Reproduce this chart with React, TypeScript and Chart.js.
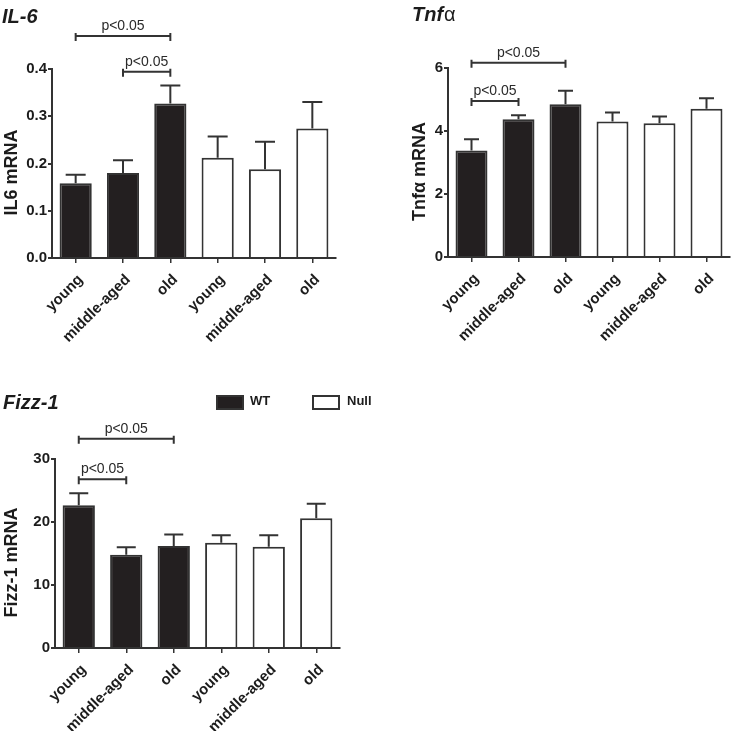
import React, { useEffect, useRef } from 'react';
import { Chart, registerables } from 'chart.js';

Chart.register(...registerables);

// ---------- data ----------
const categories = ['young', 'middle-aged', 'old', 'young', 'middle-aged', 'old'];
const seriesNames = ['WT', 'Null'];
const sigLabel = 'p<0.05';

const il6WT = [0.158, 0.18, 0.327, null, null, null];
const il6Null = [null, null, null, 0.212, 0.188, 0.274];
const il6Sem = [0.018, 0.027, 0.038, 0.045, 0.058, 0.056];
const il6Ticks = [0, 0.1, 0.2, 0.3, 0.4];
const il6Brackets = [
  { from: 0, to: 2, level: 0.47 },
  { from: 1, to: 2, level: 0.394 },
];

const tnfWT = [3.38, 4.37, 4.85, null, null, null];
const tnfNull = [null, null, null, 4.3, 4.25, 4.71];
const tnfSem = [0.36, 0.13, 0.43, 0.29, 0.21, 0.33];
const tnfTicks = [0, 2, 4, 6];
const tnfBrackets = [
  { from: 0, to: 2, level: 6.17 },
  { from: 0, to: 1, level: 4.95 },
];

const fizzWT = [22.67, 14.8, 16.2, null, null, null];
const fizzNull = [null, null, null, 16.7, 16.08, 20.6];
const fizzSem = [1.9, 1.2, 1.8, 1.2, 1.8, 2.3];
const fizzTicks = [0, 10, 20, 30];
const fizzBrackets = [
  { from: 0, to: 2, level: 33.2 },
  { from: 0, to: 1, level: 26.8 },
];

// ---------- style ----------
const FONT = "'Liberation Sans', Arial, Helvetica, sans-serif";
const WT_FILL = '#231f20';
const NULL_FILL = '#ffffff';
const EDGE = '#333333';
const TEXT = '#1c1c1c';

type Spec = {
  key: string;
  left: number;
  top: number;
  w: number;
  h: number;
  padLeft: number;
  padRight: number;
  padTop: number;
  yWidth: number;
  xHeight: number;
  wt: (number | null)[];
  nul: (number | null)[];
  sem: number[];
  ticks: number[];
  decimals: number;
  brackets: { from: number; to: number; level: number }[];
  cap: number;
  title: string;
  titleSuffix?: string;
  titleX: number;
  titleY: number;
  yTitle: string;
  yTitleX: number;
  legend?: boolean;
};

function decorPlugin(spec: Spec) {
  return {
    id: 'decor_' + spec.key,
    afterDatasetsDraw(chart: any) {
      const ctx = chart.ctx as CanvasRenderingContext2D;
      const ys = chart.scales.y;
      ctx.save();
      ctx.strokeStyle = EDGE;
      ctx.lineWidth = 2;
      chart.data.datasets.forEach((ds: any, i: number) => {
        const meta = chart.getDatasetMeta(i);
        meta.data.forEach((bar: any, j: number) => {
          const v = ds.data[j];
          if (v == null) return;
          const top = ys.getPixelForValue(v + spec.sem[j]);
          ctx.beginPath();
          ctx.moveTo(bar.x, bar.y);
          ctx.lineTo(bar.x, top);
          ctx.moveTo(bar.x - spec.cap / 2, top);
          ctx.lineTo(bar.x + spec.cap / 2, top);
          ctx.stroke();
        });
      });
      ctx.restore();
    },
    afterDraw(chart: any) {
      const ctx = chart.ctx as CanvasRenderingContext2D;
      const xs = chart.scales.x;
      const ys = chart.scales.y;
      const area = chart.chartArea;
      ctx.save();
      // significance brackets
      ctx.strokeStyle = EDGE;
      ctx.fillStyle = '#2a2a2a';
      ctx.lineWidth = 2;
      ctx.font = `14px ${FONT}`;
      ctx.textAlign = 'center';
      ctx.textBaseline = 'alphabetic';
      spec.brackets.forEach((b) => {
        const x1 = xs.getPixelForValue(b.from);
        const x2 = xs.getPixelForValue(b.to);
        const yy = ys.getPixelForValue(b.level);
        ctx.beginPath();
        ctx.moveTo(x1, yy);
        ctx.lineTo(x2, yy);
        ctx.moveTo(x1, yy - 3);
        ctx.lineTo(x1, yy + 5);
        ctx.moveTo(x2, yy - 3);
        ctx.lineTo(x2, yy + 5);
        ctx.stroke();
        ctx.fillText(sigLabel, (x1 + x2) / 2, yy - 6);
      });
      // panel title
      ctx.fillStyle = TEXT;
      ctx.textAlign = 'left';
      ctx.font = `italic bold 20px ${FONT}`;
      ctx.fillText(spec.title, spec.titleX, spec.titleY);
      if (spec.titleSuffix) {
        const w = ctx.measureText(spec.title).width;
        ctx.font = `20px ${FONT}`;
        ctx.fillText(spec.titleSuffix, spec.titleX + w + 1, spec.titleY);
      }
      // y axis title
      ctx.font = `bold 18px ${FONT}`;
      ctx.textAlign = 'center';
      ctx.textBaseline = 'middle';
      ctx.translate(spec.yTitleX, (area.top + area.bottom) / 2 + 9);
      ctx.rotate(-Math.PI / 2);
      ctx.fillText(spec.yTitle, 0, 0);
      ctx.restore();

      if (spec.legend) {
        ctx.save();
        const items = chart.data.datasets.map((ds: any) => ({
          label: ds.label,
          fill: ds.backgroundColor,
        }));
        const boxX = [217, 313];
        const textX = [250, 347];
        items.forEach((it: any, k: number) => {
          ctx.fillStyle = it.fill;
          ctx.strokeStyle = EDGE;
          ctx.lineWidth = 2;
          ctx.fillRect(boxX[k], 16, 26, 13);
          ctx.strokeRect(boxX[k], 16, 26, 13);
          ctx.fillStyle = TEXT;
          ctx.font = `bold 13px ${FONT}`;
          ctx.textAlign = 'left';
          ctx.textBaseline = 'alphabetic';
          ctx.fillText(it.label, textX[k], 25);
        });
        ctx.restore();
      }
    },
  };
}

function buildChart(canvas: HTMLCanvasElement, spec: Spec) {
  const max = spec.ticks[spec.ticks.length - 1];
  const step = spec.ticks[1] - spec.ticks[0];
  const common = {
    borderColor: EDGE,
    borderWidth: 2,
    barPercentage: 0.68,
    categoryPercentage: 1,
    skipNull: true,
  };
  return new Chart(canvas, {
    type: 'bar',
    data: {
      labels: categories,
      datasets: [
        { label: seriesNames[0], data: spec.wt, backgroundColor: WT_FILL, ...common },
        { label: seriesNames[1], data: spec.nul, backgroundColor: NULL_FILL, ...common },
      ] as any,
    },
    options: {
      responsive: false,
      animation: false,
      devicePixelRatio: 1,
      layout: { padding: { left: spec.padLeft, right: spec.padRight, top: spec.padTop, bottom: 0 } },
      plugins: {
        legend: { display: false },
        tooltip: { enabled: false },
        title: { display: false },
      },
      scales: {
        x: {
          grid: {
            offset: false,
            drawOnChartArea: false,
            tickLength: 5,
            color: EDGE,
            lineWidth: 1.5,
          },
          border: { color: EDGE, width: 2 },
          ticks: {
            autoSkip: false,
            maxRotation: 45,
            minRotation: 45,
            padding: 8,
            labelOffset: 5,
            color: TEXT,
            font: { family: FONT, weight: 'bold', size: 15 },
          },
          afterFit: (s: any) => {
            s.height = spec.xHeight;
          },
        },
        y: {
          min: 0,
          max,
          grid: {
            drawOnChartArea: false,
            tickLength: 4,
            color: EDGE,
            lineWidth: 2,
          },
          border: { color: EDGE, width: 2 },
          ticks: {
            stepSize: step,
            padding: 1,
            color: TEXT,
            font: { family: FONT, weight: 'bold', size: 15 },
            callback: (v: any) => Number(v).toFixed(spec.decimals),
          },
          afterFit: (s: any) => {
            s.width = spec.yWidth;
          },
        },
      },
    } as any,
    plugins: [decorPlugin(spec)],
  });
}

const specs: Spec[] = [
  {
    key: 'il6', left: 0, top: 0, w: 368, h: 380,
    padLeft: 0, padRight: 32, padTop: 69, yWidth: 52, xHeight: 122,
    wt: il6WT, nul: il6Null, sem: il6Sem, ticks: il6Ticks, decimals: 1,
    brackets: il6Brackets, cap: 20,
    title: 'IL-6', titleX: 2, titleY: 23,
    yTitle: 'IL6 mRNA', yTitleX: 12,
  },
  {
    key: 'tnf', left: 368, top: 0, w: 368, h: 380,
    padLeft: 40, padRight: 6, padTop: 68, yWidth: 40, xHeight: 123,
    wt: tnfWT, nul: tnfNull, sem: tnfSem, ticks: tnfTicks, decimals: 0,
    brackets: tnfBrackets, cap: 15,
    title: 'Tnf', titleSuffix: 'α', titleX: 44, titleY: 21,
    yTitle: 'Tnfα mRNA', yTitleX: 52,
  },
  {
    key: 'fizz', left: 0, top: 380, w: 400, h: 351,
    padLeft: 0, padRight: 60, padTop: 79, yWidth: 55, xHeight: 83,
    wt: fizzWT, nul: fizzNull, sem: fizzSem, ticks: fizzTicks, decimals: 0,
    brackets: fizzBrackets, cap: 19,
    title: 'Fizz-1', titleX: 3, titleY: 29,
    yTitle: 'Fizz-1 mRNA', yTitleX: 12, legend: true,
  },
];

function Panel({ spec }: { spec: Spec }) {
  const ref = useRef<HTMLCanvasElement>(null);
  useEffect(() => {
    if (!ref.current) return;
    const chart = buildChart(ref.current, spec);
    return () => chart.destroy();
  }, [spec]);
  return (
    <canvas
      ref={ref}
      width={spec.w}
      height={spec.h}
      style={{ position: 'absolute', left: spec.left, top: spec.top, width: spec.w, height: spec.h }}
    />
  );
}

export default function App() {
  return (
    <div
      style={{
        position: 'absolute',
        left: 0,
        top: 0,
        width: 736,
        height: 731,
        background: '#ffffff',
        overflow: 'hidden',
      }}
    >
      {specs.map((s) => (
        <Panel key={s.key} spec={s} />
      ))}
    </div>
  );
}
